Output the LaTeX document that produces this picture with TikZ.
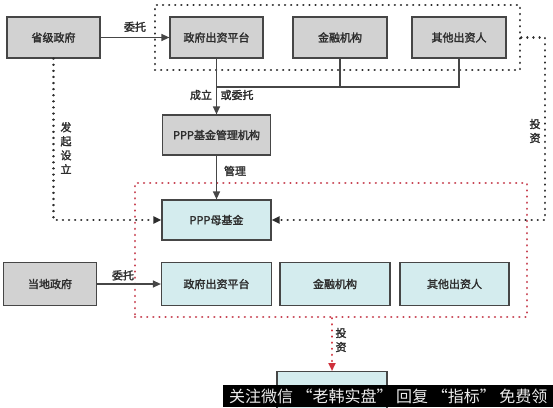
\documentclass[tikz,border=0pt]{standalone}
\usepackage{fontspec}
\setmainfont{Noto Sans CJK SC}[AutoFakeBold=2]
\usetikzlibrary{arrows.meta, positioning}
\definecolor{boxgray}{RGB}{210, 210, 210}
\definecolor{boxblue}{RGB}{212, 236, 238}
\definecolor{edgegray}{RGB}{70, 70, 70}
\definecolor{textgray}{RGB}{45, 45, 45}
\definecolor{dotred}{RGB}{200, 70, 85}
\definecolor{headred}{RGB}{210, 40, 50}

\begin{document}
\begin{tikzpicture}[x=1pt, y=-1pt,
  block/.style={rectangle, draw=edgegray, line width=1.2pt, fill=boxgray,
    minimum height=41pt, font=\fontsize{11}{13}\selectfont\bfseries, text=textgray, align=center},
  fundblock/.style={block, fill=boxblue},
  arrow/.style={-{Triangle[length=8pt, width=7pt]}, line width=1.2pt, edgegray},
  link/.style={line width=1.2pt, edgegray},
  dotline/.style={line width=2.4pt, dash pattern=on 0.1pt off 6pt, line cap=round, textgray},
  dotframe/.style={rectangle, draw=textgray, line width=2.4pt, dash pattern=on 0.1pt off 6pt, line cap=round},
  redframe/.style={rectangle, draw=dotred, line width=2.4pt, dash pattern=on 0.1pt off 6pt, line cap=round},
  tag/.style={font=\fontsize{11}{14}\selectfont\bfseries, text=textgray, align=center, inner sep=1pt}
]
\useasboundingbox (0,0) rectangle (553,407);
\clip (0,0) rectangle (553,407);

% Provincial level
\node[dotframe, minimum width=365pt, minimum height=65pt] (topgroup) at (337.5, 37.5) {};
\node[block, minimum width=93pt] (sheng) at (53.5, 37.5) {省级政府};
\node[block, minimum width=93pt] (ptop) at (216.5, 37.5) {政府出资平台};
\node[block, minimum width=94pt] (jtop) at (340, 37.5) {金融机构};
\node[block, minimum width=94pt] (qtop) at (459, 37.5) {其他出资人};

% Management and mother fund
\node[block, minimum width=108pt, minimum height=40pt] (mgmt) at (216.5, 135) {PPP基金管理机构};
\node[redframe, minimum width=392pt, minimum height=134pt] (lowgroup) at (331, 250) {};
\node[fundblock, minimum width=109pt, minimum height=40pt] (mother) at (216.5, 220) {PPP母基金};

% Local level
\node[block, minimum width=93pt, minimum height=43pt] (local) at (50, 284) {当地政府};
\node[fundblock, minimum width=110pt, minimum height=43pt] (pbot) at (216.5, 284) {政府出资平台};
\node[fundblock, minimum width=110pt, minimum height=43pt] (jbot) at (335, 284) {金融机构};
\node[fundblock, minimum width=109pt, minimum height=43pt] (qbot) at (454.5, 284) {其他出资人};
\node[fundblock, minimum width=110pt, minimum height=50pt, anchor=north] (sub) at (332, 371) {};

% Connectors
\draw[arrow] (sheng) -- (ptop) node[tag, midway, above=4pt] {委托};
\coordinate (join) at (216.5, 87);
\draw[link] (qtop.south) |- (join);
\draw[link] (jtop.south) -- (jtop.south |- join);
\draw[arrow] (ptop.south) -- (mgmt.north);
\node[tag] (setup) at (201, 95) {成立};
\node[tag] (orentrust) at (237, 95) {或委托};
\draw[arrow] (mgmt) -- (mother);
\node[tag] (manage) at (235, 171) {管理};
\draw[dotline, -{Triangle[length=8pt, width=7pt]}] (sheng.south) |- (mother.west);
\node[tag] (launch) at (66, 148) {发\\起\\设\\立};
\coordinate (turn) at (545, 37.5);
\draw[dotline, -{Triangle[length=8pt, width=7pt]}] (topgroup.east) -- (turn) |- (mother.east);
\node[tag] (invest) at (535, 131) {投\\资};
\draw[arrow] (local) -- (pbot) node[tag, midway, above=2pt, xshift=-6pt] {委托};
\draw[redframe, -{Triangle[length=8pt, width=7pt, fill=headred]}, headred!70!dotred] (sub.north |- lowgroup.south) -- (sub.north);
\node[tag] (invest2) at (341, 340) {投\\资};

% Watermark banner
\node[fill=black, text=white!92!black, minimum width=330pt, minimum height=22pt, anchor=north west,
  inner sep=0pt, font=\fontsize{16}{18}\selectfont] (banner) at (223, 385) {关注微信 “老韩实盘” 回复 “指标” 免费领};
\end{tikzpicture}
\end{document}
